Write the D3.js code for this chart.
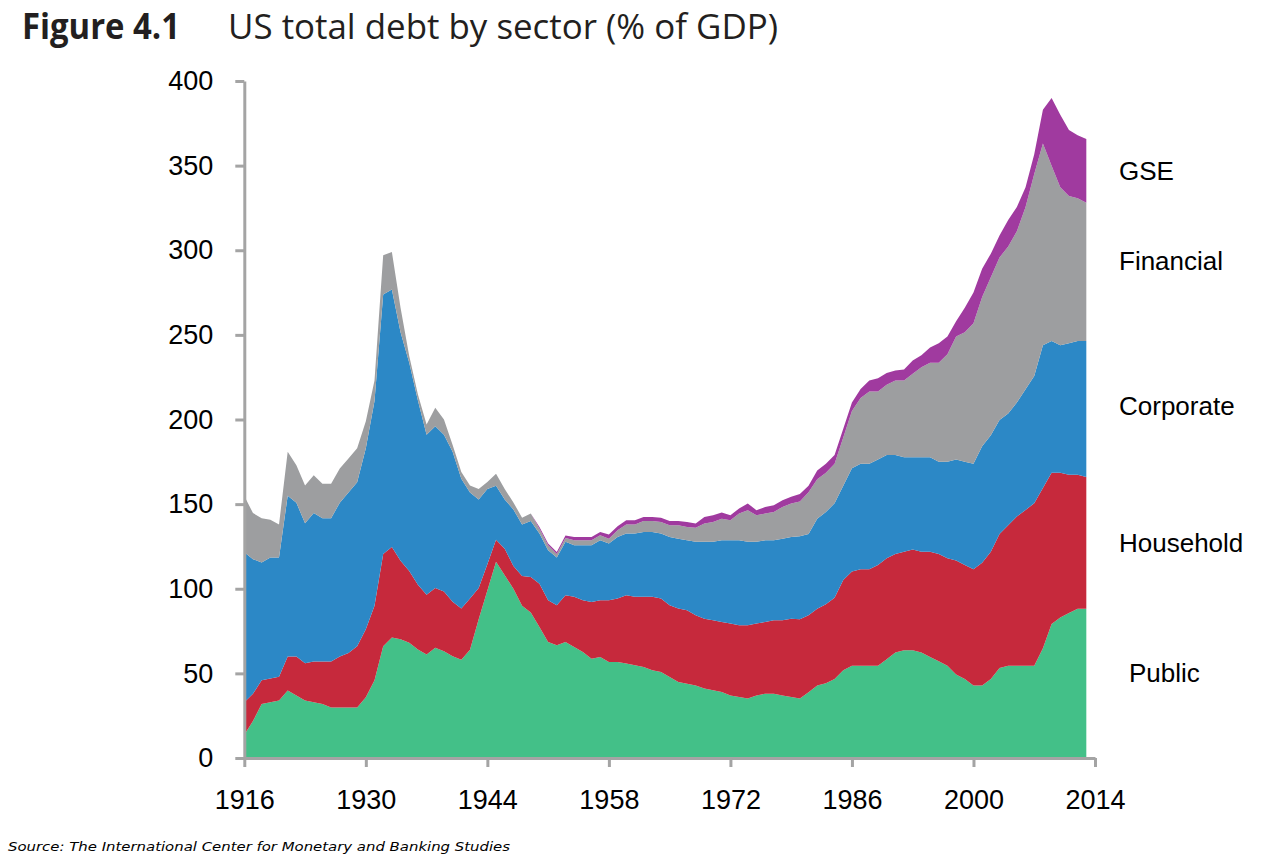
<!DOCTYPE html>
<html><head><meta charset="utf-8">
<script src="https://cdn.jsdelivr.net/npm/d3@7"></script>
<style>html,body{margin:0;padding:0;background:#fff}svg{display:block}</style>
</head><body>
<svg id="chart" width="1268" height="860"></svg>
<script>
// ---------------- data (% of GDP) ----------------
const years = d3.range(1916, 2014);
const publicDebt = [
 13.7,21.8,31.9,32.9,33.9,39.9,36.9,33.9,32.9,31.9,
 29.8,29.8,29.8,29.8,35.9,46,66,71.2,70.2,68.1,
 64.1,61.1,65.1,63.1,60.1,58,64,82,99,116,
 108,100,90,86,77.4,68.6,66.6,68.6,65.6,62.6,
 58.7,59.7,56.7,56.7,55.8,54.8,53.8,51.8,50.8,47.9,
 44.9,43.9,42.9,41,40,39,37,36,35.1,37,
 38,38,37,36,35.1,38.9,42.8,44.1,46.7,51.9,
 54.5,54.5,54.5,54.5,58.4,62.3,63.6,63.6,62.3,59.7,
 57.1,54.5,49.3,46.7,42.8,42.8,46.7,53.2,54.5,54.5,
 54.5,54.5,64.9,79.1,83,85.6,88.2,88.2];
const householdDebt = [
 19.2,16.1,14.1,14.1,14.1,20.1,23.1,22.1,24.1,25.1,
 27.2,30.2,32.2,36.2,40.1,44,54.5,53.4,46.3,42.4,
 38.3,35.3,35.3,35.3,32.2,30.3,30.3,18.4,15.5,13,
 15.6,13.5,17.5,21,25.6,24.6,23.6,27.5,29.6,30.6,
 33.5,33.5,36.5,37.5,40.3,40.4,41.4,43.4,43.4,42.3,
 43.4,43.4,41.4,41.3,41.4,41.4,42.4,42.4,43.3,42.4,
 42.4,43.4,44.4,46.3,46.9,45.4,45.4,46.7,48,53.2,
 55.7,57,57,59.6,59.6,58.3,58.3,59.6,59.6,62.2,
 63.5,63.5,67.4,67.4,68.7,72.6,75.2,79.1,83,88.2,
 92.1,96,94.6,89.5,85.6,81.7,79.1,77.8];
const corporateDebt = [
 88.7,79.6,69.5,71.5,70.5,95,90.8,82.7,87.7,84.7,
 84.7,90.8,94.8,96.9,107,121,153.3,152.2,135.1,123,
 108.9,94.6,95.6,92.6,88.7,76.7,62.5,52.4,44.4,31.9,
 29.2,33.3,30.5,33,29.6,29.5,28.3,31.6,30.5,32.5,
 33.5,35.4,33.5,36.4,36.5,37.4,38.4,38.4,38.4,40.4,
 41.3,41.3,43.4,45.4,46.3,48.2,49.2,50.2,49.3,48.3,
 48.2,47.2,48.2,48.3,49,48,53.2,54.5,55.8,55.7,
 61,62.3,62.3,62.3,61,58.4,55.8,54.5,55.8,55.8,
 54.5,57.1,59.7,61,62.3,68.8,68.8,67.4,66.1,67.4,
 71.3,75.2,84.3,77.8,75.2,77.8,79.1,80.4];
const financialDebt = [
 33.2,27.2,26.2,22.2,19.5,26,22.2,22.3,22.3,20.3,
 20.3,20.2,20.2,20.1,16,12,23.2,22.2,14.4,4,
 3.5,6,11,9,4,4,4.2,6.2,4.1,7.1,
 6.2,4.2,4,4.5,2.9,3,2,2.3,2.9,2.9,
 2.9,3,2.9,4,5.4,5.4,6.4,6.4,6.9,6.9,
 7.9,7.9,8.3,10.8,11.8,12.8,11.9,15.8,18.7,15.7,
 15.8,16.8,18.7,19.7,20.5,24.7,23.3,23.3,23.3,28.6,
 33.8,38.9,42.8,40.2,41.5,44,45.3,49.3,53.2,55.8,
 58.4,63.5,72.6,76.5,83,88.2,93.3,96,98.6,101.2,
 107.6,119.3,119.2,103.6,93.4,86.9,84.3,81.7];
const gseDebt = [
 0,0,0,0,0,0,0,0,0,0,
 0,0,0,0,0,0,0,0,0,0,
 0,0,0,0,0,0,0,0,0,0,
 0,0,0,0,1,1,1.2,1.5,2,2,
 2,1.9,2.4,2.4,2.5,2.5,2.4,2.4,2.5,2.5,
 2.5,3,2.5,3.9,3.9,3.6,3,3,3.9,3,
 3.9,3.9,4,4,4.5,3.8,5.2,5.2,5.2,5.2,
 5,5.3,6.4,7.8,7,6,6.6,7.8,7,9,
 11.6,10.4,9,14.4,18.2,16.6,14,13,15.6,14.2,
 11.7,11.7,20,40,42.8,39,37.3,37.7];

const seriesKeys = ["Public", "Household", "Corporate", "Financial", "GSE"];
const seriesColors = ["#43c088", "#c6293c", "#2c88c6", "#9d9ea0", "#a03a9f"];
const yTickValues = [0, 50, 100, 150, 200, 250, 300, 350, 400];
const xTickValues = [1916, 1930, 1944, 1958, 1972, 1986, 2000, 2014];
// where each sector name sits on the right, in % of GDP units
const labelAt = [50, 127, 208, 294, 347];

const titleBold = "Figure 4.1";
const titleText = "US total debt by sector (% of GDP)";
const sourceText = "Source: The International Center for Monetary and Banking Studies";

// ---------------- chart ----------------
const svg = d3.select("#chart");
const axisColor = "#a4a4a4";

const rows = years.map((yr, i) => ({
  year: yr,
  Public: publicDebt[i],
  Household: householdDebt[i],
  Corporate: corporateDebt[i],
  Financial: financialDebt[i],
  GSE: gseDebt[i]
}));

const x = d3.scaleLinear().domain([1916, 2014]).range([244.3, 1095]);
const y = d3.scaleLinear().domain([0, 400]).range([758, 81]);

const stacked = d3.stack().keys(seriesKeys)(rows);
const area = d3.area()
  .x(d => x(d.data.year))
  .y0(d => y(d[0]))
  .y1(d => y(d[1]))
  .curve(d3.curveLinear);

svg.append("g").selectAll("path")
  .data(stacked)
  .join("path")
  .attr("d", area)
  .attr("fill", (d, i) => seriesColors[i]);

// y axis
const yAxis = svg.append("g")
  .attr("transform", `translate(${x(1916)},0)`)
  .call(d3.axisLeft(y).tickValues(yTickValues).tickSize(9).tickSizeOuter(0).tickPadding(22).tickFormat(d3.format("d")));
// x axis
const xAxis = svg.append("g")
  .attr("transform", `translate(0,${y(0)})`)
  .call(d3.axisBottom(x).tickValues(xTickValues).tickSize(9).tickSizeOuter(0).tickPadding(23).tickFormat(d3.format("d")));

[yAxis, xAxis].forEach(g => {
  g.select(".domain").attr("stroke", axisColor).attr("stroke-width", 3);
  g.selectAll(".tick line").attr("stroke", axisColor).attr("stroke-width", 3);
  g.selectAll(".tick text")
    .attr("fill", "#000")
    .style("font-family", "'Liberation Sans', Arial, sans-serif")
    .style("font-size", "27px");
});

// sector labels
svg.append("g").selectAll("text")
  .data(seriesKeys)
  .join("text")
  .attr("x", (d, i) => i === 0 ? 1129 : 1119)
  .attr("y", (d, i) => y(labelAt[i]))
  .attr("dy", "0.35em")
  .style("font-family", "'Liberation Sans', Arial, sans-serif")
  .style("font-size", "26px")
  .attr("fill", "#000")
  .text(d => d);

// title
svg.append("text")
  .attr("x", 22).attr("y", 39)
  .style("font-family", "'Open Sans', 'Noto Sans', sans-serif")
  .style("font-weight", "700")
  .style("font-size", "35px")
  .attr("fill", "#231f20")
  .attr("textLength", 158)
  .attr("lengthAdjust", "spacingAndGlyphs")
  .text(titleBold);
svg.append("text")
  .attr("x", 228).attr("y", 39)
  .style("font-family", "'Open Sans', 'Noto Sans', sans-serif")
  .style("font-weight", "400")
  .style("font-size", "35px")
  .attr("fill", "#231f20")
  .attr("textLength", 550)
  .attr("lengthAdjust", "spacingAndGlyphs")
  .text(titleText);

// source
svg.append("text")
  .attr("x", 8).attr("y", 851)
  .style("font-family", "'DejaVu Sans', Verdana, sans-serif")
  .style("font-style", "italic")
  .style("font-size", "13px")
  .attr("fill", "#000")
  .attr("textLength", 502)
  .attr("lengthAdjust", "spacingAndGlyphs")
  .text(sourceText);
</script>
</body></html>
